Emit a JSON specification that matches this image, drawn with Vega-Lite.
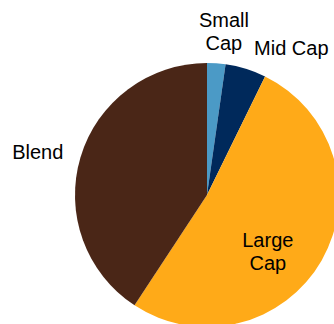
{
  "$schema": "https://vega.github.io/schema/vega-lite/v6.json",
  "width": 254,
  "height": 258,
  "autosize": {"type": "none"},
  "padding": {"left": 80, "top": 66, "right": 0, "bottom": 0},
  "background": "white",
  "config": {"view": {"stroke": null}, "text": {"font": "Liberation Sans", "fontSize": 20, "color": "#000000", "lineHeight": 23}},
  "data": {"values": [
    {"seg": "Small Cap", "label": ["Small", "Cap"], "value": 2.25},
    {"seg": "Mid Cap", "label": ["Mid Cap"], "value": 5.0},
    {"seg": "Large Cap", "label": ["Large", "Cap"], "value": 52.0},
    {"seg": "Blend", "label": ["Blend"], "value": 40.75}
  ]},
  "encoding": {
    "theta": {"field": "value", "type": "quantitative", "stack": true},
    "order": {"field": "seg", "type": "nominal", "sort": "descending"}
  },
  "layer": [
    {
      "mark": {"type": "arc", "outerRadius": 132},
      "encoding": {
        "color": {"field": "seg", "type": "nominal", "legend": null,
          "scale": {"domain": ["Small Cap", "Mid Cap", "Large Cap", "Blend"], "range": ["#4B9AC6", "#00295B", "#FFAA18", "#4A2617"]}}
      }
    },
    {
      "mark": {"type": "text", "radius": 168.5, "dx": 5, "align": "center", "baseline": "alphabetic"},
      "encoding": {"text": {"condition": {"test": "datum.seg === 'Small Cap'", "field": "label"}, "value": ""}}
    },
    {
      "mark": {"type": "text", "radius": 146.4, "dx": 4, "align": "left", "baseline": "alphabetic"},
      "encoding": {"text": {"condition": {"test": "datum.seg === 'Mid Cap'", "field": "label"}, "value": ""}}
    },
    {
      "mark": {"type": "text", "radius": 70, "dy": 17, "align": "center", "baseline": "alphabetic"},
      "encoding": {"text": {"condition": {"test": "datum.seg === 'Large Cap'", "field": "label"}, "value": ""}}
    },
    {
      "mark": {"type": "text", "radius": 150, "dy": 7, "align": "right", "baseline": "alphabetic"},
      "encoding": {"text": {"condition": {"test": "datum.seg === 'Blend'", "field": "label"}, "value": ""}}
    }
  ]
}
